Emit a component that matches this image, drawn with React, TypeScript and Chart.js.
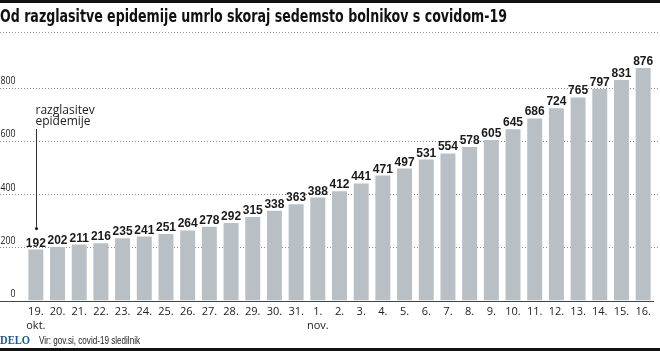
import React, { useEffect, useRef } from "react";
import { Chart, registerables } from "chart.js";

Chart.register(...registerables);

const TITLE = "Od razglasitve epidemije umrlo skoraj sedemsto bolnikov s covidom-19";
const SOURCE = "Vir: gov.si, covid-19 sledilnik";
const BRAND = "DELO";
const ANNOTATION = ["razglasitev", "epidemije"];

const categories: (string | string[])[] = [
  ["19.", "okt."], "20.", "21.", "22.", "23.", "24.", "25.", "26.", "27.", "28.", "29.", "30.", "31.",
  ["1.", "nov."], "2.", "3.", "4.", "5.", "6.", "7.", "8.", "9.", "10.", "11.", "12.", "13.", "14.", "15.", "16.",
];

const deaths = [
  192, 202, 211, 216, 235, 241, 251, 264, 278, 292, 315, 338, 363,
  388, 412, 441, 471, 497, 531, 554, 578, 605, 645, 686, 724, 765, 797, 831, 876,
];

const yTicks = [0, 200, 400, 600, 800];

const fitText = (ctx: CanvasRenderingContext2D, text: string, x: number, y: number, width: number) => {
  const w = ctx.measureText(text).width;
  ctx.save();
  ctx.translate(x, y);
  ctx.scale(width / w, 1);
  ctx.fillText(text, 0, 0);
  ctx.restore();
};

const decorPlugin = {
  id: "decor",
  beforeDatasetsDraw(chart: any) {
    const { ctx, width } = chart;
    const y = chart.scales.y;
    ctx.save();
    // top bar
    ctx.fillStyle = "#111";
    ctx.fillRect(0, 0, width, 3);
    // title
    ctx.fillStyle = "#111";
    ctx.font = "bold 17px 'Liberation Sans Narrow', 'DejaVu Sans Condensed', sans-serif";
    ctx.textBaseline = "alphabetic";
    ctx.textAlign = "left";
    fitText(ctx, TITLE, 0, 22, 507);
    // title separator
    ctx.strokeStyle = "#999";
    ctx.lineWidth = 1;
    ctx.setLineDash([1, 2]);
    ctx.beginPath();
    ctx.moveTo(0, 32.5);
    ctx.lineTo(width, 32.5);
    ctx.stroke();
    // gridlines
    yTicks.forEach((v) => {
      const py = Math.round(y.getPixelForValue(v)) + 0.5;
      if (v === 0) return;
      ctx.strokeStyle = "#8a8a8a";
      ctx.setLineDash([1, 2]);
      ctx.beginPath();
      ctx.moveTo(0, py);
      ctx.lineTo(width, py);
      ctx.stroke();
    });
    ctx.setLineDash([]);
    // y labels
    ctx.fillStyle = "#222";
    ctx.font = "11px 'Open Sans', sans-serif";
    ctx.textAlign = "right";
    ctx.textBaseline = "middle";
    yTicks.forEach((v) => {
      const py = y.getPixelForValue(v);
      const s = String(v);
      const w = ctx.measureText(s).width;
      const target = s.length * 5;
      ctx.save();
      ctx.translate(15.5, py - 7);
      ctx.scale(Math.min(1, target / w), 1);
      ctx.fillText(s, 0, 0);
      ctx.restore();
    });
    // footer
    ctx.fillStyle = "#111";
    ctx.fillRect(0, 348, width, 3);
    ctx.textAlign = "left";
    ctx.textBaseline = "middle";
    ctx.fillStyle = "#1e5a8c";
    ctx.font = "bold 13px 'Liberation Serif', serif";
    fitText(ctx, BRAND, 0, 341, 30);
    ctx.fillStyle = "#222";
    ctx.font = "11px 'Liberation Sans Narrow', sans-serif";
    fitText(ctx, SOURCE, 39, 341, 101);
    ctx.restore();
  },
  afterDatasetsDraw(chart: any) {
    const { ctx } = chart;
    const y = chart.scales.y;
    const meta = chart.getDatasetMeta(0);
    ctx.save();
    // baseline
    const by = Math.round(y.getPixelForValue(0)) + 0.5;
    ctx.strokeStyle = "#444";
    ctx.lineWidth = 1;
    ctx.beginPath();
    ctx.moveTo(0, by);
    ctx.lineTo(654, by);
    ctx.stroke();
    // value labels
    ctx.fillStyle = "#1a1a1a";
    ctx.font = "bold 12px 'Liberation Sans Narrow', sans-serif";
    ctx.textAlign = "center";
    ctx.textBaseline = "alphabetic";
    meta.data.forEach((bar: any, i: number) => {
      ctx.fillText(String(deaths[i]), bar.x, bar.y - 3);
    });
    // annotation
    const first = meta.data[0];
    const ax = Math.round(first.x) + 0.5;
    ctx.fillStyle = "#222";
    ctx.font = "12px 'Open Sans', sans-serif";
    ctx.textAlign = "left";
    ctx.textBaseline = "alphabetic";
    ctx.fillText(ANNOTATION[0], ax - 1, 114);
    ctx.fillText(ANNOTATION[1], ax - 1, 125);
    ctx.strokeStyle = "#333";
    ctx.beginPath();
    ctx.moveTo(ax, 129);
    ctx.lineTo(ax, first.y - 21);
    ctx.stroke();
    ctx.fillStyle = "#222";
    ctx.beginPath();
    ctx.arc(ax, first.y - 21, 1.6, 0, Math.PI * 2);
    ctx.fill();
    ctx.restore();
  },
};

export default function App() {
  const ref = useRef<HTMLCanvasElement | null>(null);
  useEffect(() => {
    document.body.style.margin = "0";
    const canvas = ref.current!;
    const chart = new Chart(canvas, {
      type: "bar",
      data: {
        labels: categories,
        datasets: [
          {
            data: deaths,
            backgroundColor: "#b8bfc5",
            borderWidth: 0,
            categoryPercentage: 1,
            barPercentage: 0.69,
          },
        ],
      },
      options: {
        responsive: false,
        animation: false,
        layout: { padding: { top: 35, left: 25, right: 6, bottom: 14 } },
        plugins: { legend: { display: false }, tooltip: { enabled: false }, title: { display: false } },
        scales: {
          x: {
            grid: { display: false, drawTicks: false },
            border: { display: false },
            ticks: { color: "#222", font: { size: 11, family: "'Open Sans', sans-serif" }, padding: 5, maxRotation: 0, autoSkip: false },
          },
          y: {
            display: false,
            min: 0,
            max: 1000,
            ticks: { stepSize: 200 },
          },
        },
      },
      plugins: [decorPlugin],
    });
    return () => chart.destroy();
  }, []);
  return <canvas ref={ref} width={660} height={351} style={{ display: "block", width: 660, height: 351 }} />;
}
